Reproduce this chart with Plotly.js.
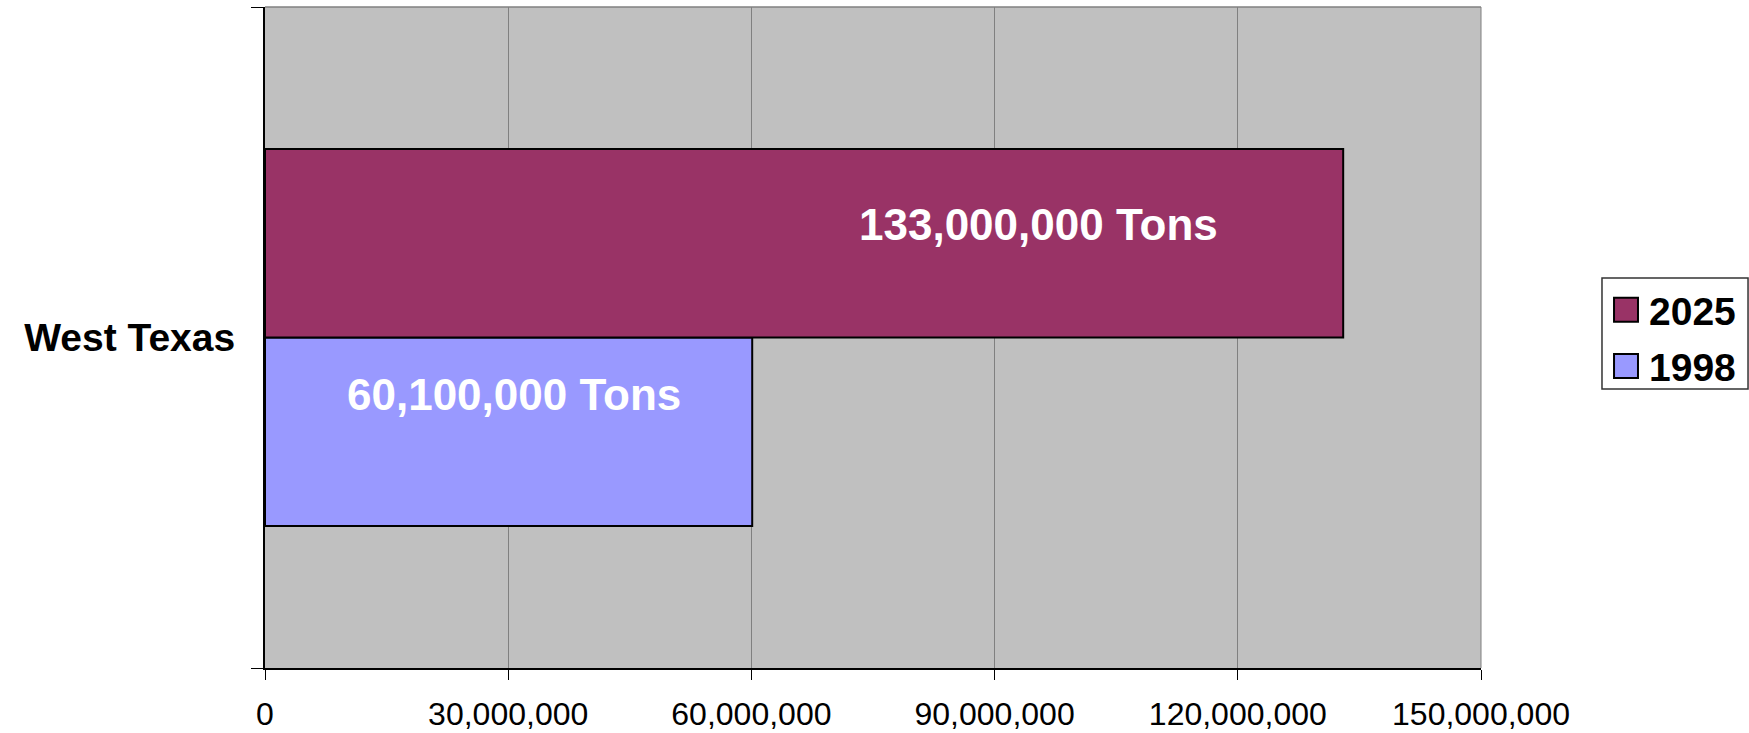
<!DOCTYPE html>
<html>
<head>
<meta charset="utf-8">
<script src="https://cdn.plot.ly/plotly-3.0.1.min.js"></script>
<style>
  html, body { margin: 0; padding: 0; background: #ffffff; }
  #chart { width: 1749px; height: 733px; }
</style>
</head>
<body>
<div id="chart"></div>
<script>
// Freight tonnage, West Texas
const regions = ["West Texas"];
const seriesNames = ["1998", "2025"];
const tons1998 = [60100000];
const tons2025 = [133000000];
const seriesColors = ["#9999FF", "#993366"];
const xTickValues = [0, 30000000, 60000000, 90000000, 120000000, 150000000];

const FONT = "Liberation Sans, Arial, Helvetica, sans-serif";
const fmt = v => v.toLocaleString("en-US");

const traces = [
  {
    type: "bar", orientation: "h", name: seriesNames[0],
    y: regions, x: tons1998,
    marker: { color: seriesColors[0], line: { color: "#000000", width: 2 } },
    showlegend: false
  },
  {
    type: "bar", orientation: "h", name: seriesNames[1],
    y: regions, x: tons2025,
    marker: { color: seriesColors[1], line: { color: "#000000", width: 2 } },
    showlegend: false
  }
];

// value labels written inside each bar
const labelFont = { family: FONT, size: 44, color: "#ffffff", weight: "bold" };
const annotations = [
  { xref: "x", yref: "paper", x: tons2025[0] * 0.717, y: 0.671,
    text: "<b>" + fmt(tons2025[0]) + " Tons</b>", showarrow: false,
    xanchor: "center", yanchor: "middle", font: labelFont },
  { xref: "x", yref: "paper", x: tons1998[0] * 0.512, y: 0.414,
    text: "<b>" + fmt(tons1998[0]) + " Tons</b>", showarrow: false,
    xanchor: "center", yanchor: "middle", font: labelFont }
];

// plot frame: grey top and right edges
const shapes = [
  { type: "line", xref: "paper", yref: "paper", x0: 0, x1: 1, y0: 1, y1: 1,
    line: { color: "#808080", width: 1.5 }, layer: "below" },
  { type: "line", xref: "paper", yref: "paper", x0: 1, x1: 1, y0: 0, y1: 1,
    line: { color: "#808080", width: 1 }, layer: "below" }
];

// legend box on the right, newest series listed first
shapes.push({ type: "rect", xref: "paper", yref: "paper",
  x0: 1.0995, x1: 1.2196, y0: 0.422, y1: 0.590,
  fillcolor: "#ffffff", line: { color: "#333333", width: 1.5 }, layer: "above" });
const legendOrder = [1, 0];
const rowY = [0.542, 0.457];
legendOrder.forEach((si, row) => {
  const yc = rowY[row];
  shapes.push({ type: "rect", xref: "paper", yref: "paper",
    x0: 1.1094, x1: 1.1291, y0: yc - 0.0182, y1: yc + 0.0182,
    fillcolor: seriesColors[si], line: { color: "#000000", width: 2 }, layer: "above" });
  annotations.push({ xref: "paper", yref: "paper", x: 1.1365, y: yc - 0.003,
    xanchor: "left", yanchor: "middle", showarrow: false,
    text: "<b>" + seriesNames[si] + "</b>",
    font: { family: FONT, size: 39, color: "#000000", weight: "bold" } });
});

const layout = {
  width: 1749, height: 733,
  margin: { l: 265, r: 268, t: 7, b: 65, pad: 0 },
  paper_bgcolor: "#ffffff",
  plot_bgcolor: "#C0C0C0",
  barmode: "group",
  bargap: 0.43,
  bargroupgap: 0,
  font: { family: FONT, color: "#000000" },
  xaxis: {
    range: [0, 150000000],
    tickvals: xTickValues,
    ticktext: xTickValues.map(fmt),
    showgrid: true, gridcolor: "#808080", gridwidth: 1,
    zeroline: false,
    showline: true, linecolor: "#000000", linewidth: 1.5,
    ticks: "outside", ticklen: 10, tickcolor: "#000000", tickwidth: 1,
    ticklabelstandoff: 7,
    tickfont: { family: FONT, size: 32, color: "#000000" },
    fixedrange: true
  },
  yaxis: {
    type: "category",
    range: [-0.5, 0.5],
    showgrid: false, zeroline: false,
    showline: true, linecolor: "#000000", linewidth: 2,
    ticks: "outside", ticklen: 12, tickcolor: "#000000", tickwidth: 1,
    tickson: "boundaries",
    ticklabelstandoff: 20,
    tickfont: { family: FONT, size: 39, color: "#000000", weight: "bold" },
    fixedrange: true
  },
  shapes: shapes,
  annotations: annotations,
  showlegend: false,
  hovermode: false
};

Plotly.newPlot("chart", traces, layout, { displayModeBar: false, staticPlot: true });
</script>
</body>
</html>
